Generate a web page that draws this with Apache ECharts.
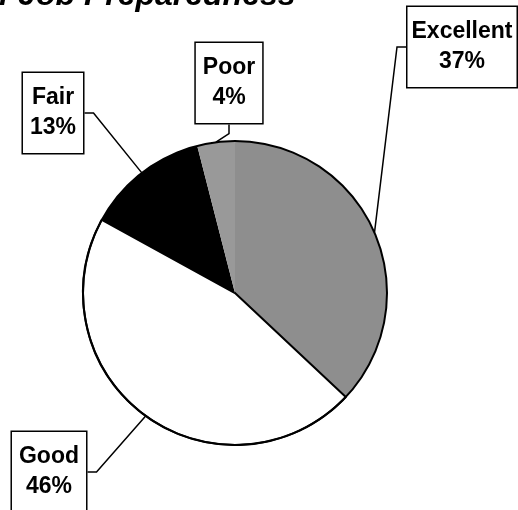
<!DOCTYPE html>
<html><head><meta charset="utf-8">
<script src="https://cdn.jsdelivr.net/npm/echarts@6/dist/echarts.min.js"></script>
<style>html,body{margin:0;padding:0;background:#fff}#c{width:518px;height:510px}</style>
</head><body><div id="c"></div>
<script>
// ---- data ----
const titleText = 'of Job Preparedness';
const categories = ['Excellent', 'Good', 'Fair', 'Poor'];
const values = [37, 46, 13, 4];

// ---- styles / layout ----
const sliceColors = ['#8e8e8e', '#ffffff', '#000000', '#999999'];
const labelBoxCenters = [[462, 47], [49, 472], [53, 113], [229, 83]];
const labelLineSide = ['left', 'right', 'right', 'bottom'];
const ELBOW = 9;
const FONT = '"Liberation Sans", Arial, sans-serif';

const chart = echarts.init(document.getElementById('c'), null, {renderer: 'canvas'});
chart.setOption({
  animation: false,
  backgroundColor: '#ffffff',
  title: {
    text: titleText,
    left: -26, top: -25,
    textStyle: {fontFamily: FONT, fontWeight: 'bold', fontStyle: 'italic', fontSize: 32, color: '#000'}
  },
  series: [
    {
      type: 'pie',
      center: [235, 293],
      radius: 152,
      startAngle: 90,
      clockwise: true,
      silent: true,
      avoidLabelOverlap: false,
      data: categories.map((c, i) => ({
        name: c, value: values[i],
        itemStyle: {color: sliceColors[i], borderColor: '#000', borderWidth: i === 1 ? 2 : 0},
        label: i === 0 ? {padding: [10, 4]} : undefined
      })),
      label: {
        show: true, position: 'outside',
        formatter: p => p.name + '\n' + p.value + '%',
        color: '#000', fontFamily: FONT, fontWeight: 'bold', fontSize: 23, lineHeight: 30,
        backgroundColor: '#fff', borderColor: '#000', borderWidth: 1.5,
        padding: [10, 7], align: 'center'
      },
      labelLine: {show: true, length: 10, length2: 9, smooth: false, lineStyle: {color: '#000', width: 1.5}},
      labelLayout: function (params) {
        const i = params.dataIndex;
        const c = labelBoxCenters[i];
        const w = params.labelRect.width, h = params.labelRect.height;
        const anchor = params.labelLinePoints ? params.labelLinePoints[0] : null;
        const out = {x: c[0], y: c[1], align: 'center', verticalAlign: 'middle'};
        if (anchor) {
          let end, elbow;
          const side = labelLineSide[i];
          if (side === 'left') { end = [c[0] - w / 2, c[1]]; elbow = [end[0] - ELBOW, end[1]]; }
          else if (side === 'right') { end = [c[0] + w / 2, c[1]]; elbow = [end[0] + ELBOW, end[1]]; }
          else { end = [c[0], c[1] + h / 2]; elbow = [end[0], end[1] + ELBOW]; }
          out.labelLinePoints = [anchor.slice(), elbow, end];
        }
        return out;
      }
    },
    {
      type: 'pie',
      center: [235, 293],
      radius: [151, 153],
      silent: true,
      z: 3,
      label: {show: false}, labelLine: {show: false},
      data: [{value: 1, name: 'outline', itemStyle: {color: '#000'}}]
    }
  ]
});
</script>
</body></html>
